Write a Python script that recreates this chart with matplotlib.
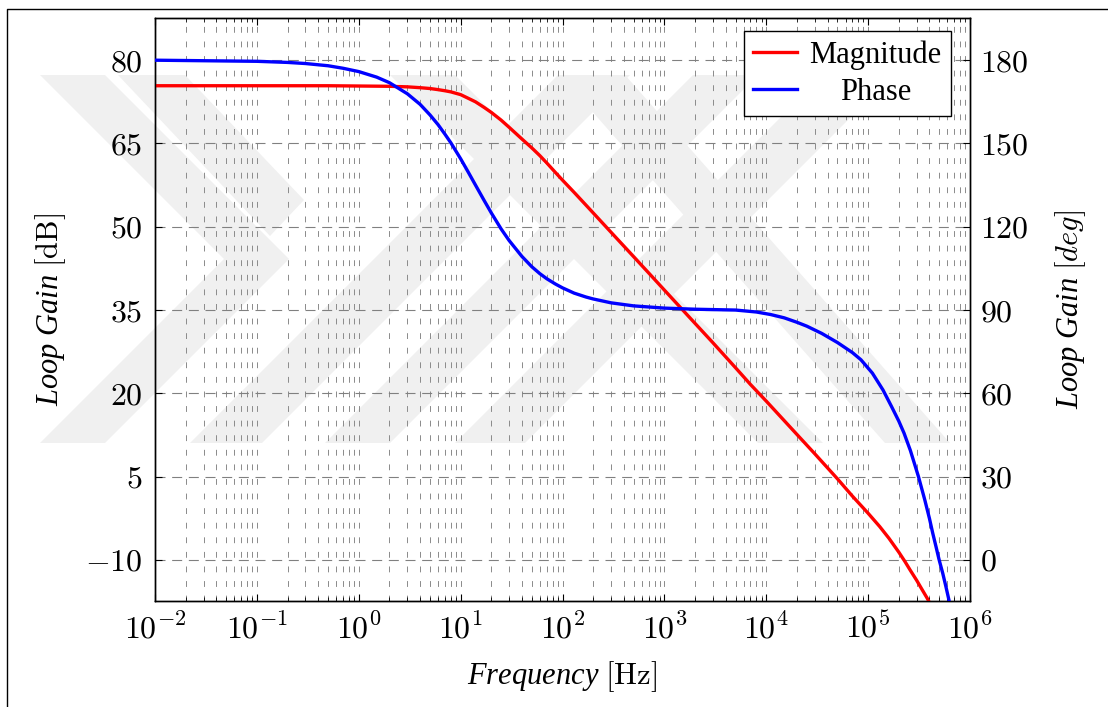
import numpy as np
import matplotlib.pyplot as plt
from matplotlib.patches import Polygon
from matplotlib.lines import Line2D
from matplotlib.ticker import LogLocator, NullFormatter

plt.rcParams['mathtext.fontset'] = 'cm'
plt.rcParams['font.family'] = ['Liberation Serif', 'DejaVu Serif']

# data
freq_mag = [1e-2, 1e-1, 0.5, 1, 2, 3, 4, 5, 6, 7, 8, 10, 12, 14, 17, 20, 25, 30, 40, 50,
            60, 70, 85, 100, 130, 170, 200, 300, 500, 700, 1e3, 2e3, 3e3, 5e3, 7e3, 1e4,
            2e4, 3e4, 5e4, 7e4, 1e5, 1.3e5, 1.6e5, 2e5, 2.3e5, 2.6e5, 3e5, 3.4e5, 3.8e5, 4.2e5]
mag_db = [75.4, 75.4, 75.4, 75.35, 75.3, 75.2, 75.05, 74.9, 74.7, 74.5, 74.3, 73.8, 73.1,
          72.5, 71.5, 70.6, 69.2, 67.9, 65.8, 64.2, 62.8, 61.5, 59.8, 58.4, 56.2, 53.9, 52.5,
          49.0, 44.6, 41.7, 38.6, 32.6, 29.1, 24.6, 21.6, 18.6, 12.6, 9.1, 4.6, 1.5, -1.6,
          -4.0, -6.1, -8.6, -10.3, -11.9, -13.7, -15.4, -16.9, -18.4]

freq_phase = [1e-2, 1e-1, 0.2, 0.3, 0.5, 0.7, 1, 1.5, 2, 3, 4, 5, 6, 7, 8, 10, 12, 14, 17,
              20, 25, 30, 40, 50, 60, 70, 85, 100, 130, 170, 200, 300, 500, 1e3, 2e3, 5e3,
              8e3, 1.1e4, 1.5e4, 2e4, 2.5e4, 3.5e4, 5e4, 7e4, 8.5e4, 1.1e5, 1.4e5, 1.7e5,
              2e5, 2.25e5, 2.6e5, 3.12e5, 3.6e5, 4e5, 4.31e5, 4.65e5, 4.98e5, 5.4e5, 5.8e5,
              6.2e5]
phase_deg = [180.0, 179.6, 179.2, 178.8, 178.0, 177.1, 175.9, 173.9, 171.9, 167.9, 164.1,
             160.3, 156.8, 153.4, 150.3, 144.5, 139.4, 135.0, 129.5, 125.0, 119.2, 115.0,
             109.3, 105.6, 103.1, 101.3, 99.4, 98.0, 96.1, 94.7, 94.0, 92.6, 91.5, 90.7,
             90.3, 90.0, 89.3, 88.4, 87.2, 85.6, 84.2, 81.6, 78.3, 74.7, 72.1, 67.3, 61.2,
             55.2, 50.0, 45.7, 39.4, 30.0, 21.6, 14.9, 9.6, 4.6, 0.0, -4.8, -9.6, -14.3]

db_ticks = [-10, 5, 20, 35, 50, 65, 80]
deg_ticks = [0, 30, 60, 90, 120, 150, 180]
decades = [-2, -1, 0, 1, 2, 3, 4, 5, 6]

W, H = 1108, 707
fig = plt.figure(figsize=(W / 100, H / 100), dpi=100)

# faint watermark behind the plot (pixel coords)
wm_shapes = [
    [(40, 75), (105, 75), (289, 259), (105, 443), (40, 443), (224, 259)],
    [(190, 443), (262, 443), (630, 75), (558, 75)],
    [(325, 443), (390, 443), (758, 75), (693, 75)],
    [(455, 443), (525, 443), (893, 75), (823, 75)],
    [(390, 75), (455, 75), (823, 443), (758, 443)],
    [(560, 75), (625, 75), (950, 443), (885, 443)],
    [(118, 75), (185, 75), (304, 200), (270, 236)],
]
for shp in wm_shapes:
    pts = [(x / W, 1 - y / H) for x, y in shp]
    fig.patches.append(Polygon(pts, closed=True, transform=fig.transFigure,
                               facecolor='#f0f0f0', edgecolor='none', zorder=-5))

# outer frame of the page
fig.add_artist(Line2D([7 / W, 7 / W, 1.01], [-0.01, 1 - 9 / H, 1 - 9 / H],
                      transform=fig.transFigure, color='black', lw=1.0))

ax = fig.add_axes([155 / W, 1 - 601 / H, 815 / W, 583 / H])
ax.set_facecolor('none')
ax.set_xscale('log')
ax.set_xlim(1e-2, 1e6)
ax.set_ylim(-17.4, 87.6)

l1, = ax.plot(freq_mag, mag_db, color='#ff0000', lw=2.4, label='Magnitude', zorder=3)

ax.set_xticks([10.0 ** k for k in decades])
ax.set_xticklabels([f'$10^{{{k}}}$' for k in decades])
ax.set_yticks(db_ticks)
ax.set_yticklabels([f'${v}$' for v in db_ticks])
ax.xaxis.set_minor_locator(LogLocator(base=10, subs=range(2, 10), numticks=20))
ax.xaxis.set_minor_formatter(NullFormatter())

ax.tick_params(axis='both', which='major', direction='in', labelsize=23, length=5, width=0.8)
ax.tick_params(axis='x', which='both', top=True, pad=9)
ax.tick_params(axis='x', which='minor', direction='in', length=3, width=0.6)
ax.tick_params(axis='y', which='both', right=False, pad=9)

ax.grid(True, which='major', axis='y', color='#808080', lw=0.8, dashes=(9, 6))
ax.grid(True, which='both', axis='x', color='#8a8a8a', lw=0.7, dashes=(6, 9))

ax.set_xlabel('Frequency $[\\mathrm{Hz}]$', fontsize=22, fontstyle='italic')
ax.set_ylabel('Loop Gain $[\\mathrm{dB}]$', fontsize=22, fontstyle='italic')
ax.xaxis.set_label_coords(0.5, -0.129)
ax.xaxis.label.set_va('center')
ax.yaxis.set_label_coords(-0.128, 0.5)
ax.yaxis.label.set_va('center')

ax2 = ax.twinx()
ax2.set_ylim(-14.8, 195.2)
l2, = ax2.plot(freq_phase, phase_deg, color='#0000ff', lw=2.4, label='Phase', zorder=3)
ax2.set_yticks(deg_ticks)
ax2.set_yticklabels([f'${v}$' for v in deg_ticks])
ax2.tick_params(axis='y', direction='in', labelsize=23, length=5, width=0.8, pad=7)
ax2.set_ylabel('Loop Gain $[deg]$', fontsize=22, fontstyle='italic')
ax2.yaxis.set_label_coords(1.124, 0.5)
ax2.yaxis.label.set_va('center')
ax2.yaxis.label.set_ha('center')
for a in (ax, ax2):
    for s in a.spines.values():
        s.set_linewidth(1.0)

leg = ax2.legend(handles=[l1, l2], loc='upper right',
                 bbox_to_anchor=((950.7 - 155) / 815, (601 - 31) / 583),
                 borderaxespad=0, fontsize=22, handlelength=1.45, handletextpad=0.4,
                 borderpad=0.3, labelspacing=0.26, fancybox=False, framealpha=1,
                 edgecolor='black')
leg.get_frame().set_linewidth(1.0)

# centre the legend labels like the original
fig.canvas.draw()
r = fig.canvas.get_renderer()
texts = leg.get_texts()
widths = [t.get_window_extent(r).width for t in texts]
wmax = max(widths)
for t, w in zip(texts, widths):
    t.set_position(((wmax - w) / 2, 0))

fig.savefig('out.png', dpi=100)
